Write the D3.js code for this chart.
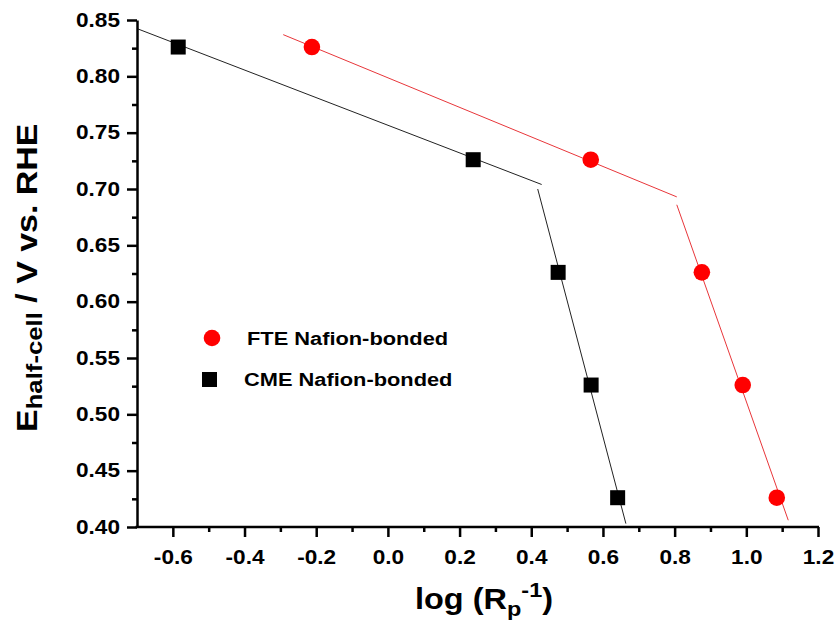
<!DOCTYPE html>
<html>
<head>
<meta charset="utf-8">
<script src="https://cdn.jsdelivr.net/npm/d3@7.9.0/dist/d3.min.js"></script>
<style>
  body { margin: 0; background: #fff; }
  text { font-family: "Liberation Sans", Arial, sans-serif; font-weight: bold; fill: #000; }
</style>
</head>
<body>
<svg id="chart" width="838" height="627"></svg>
<script>
// data
const fteX = [-0.212, 0.566, 0.876, 0.990, 1.085];
const fteY = [0.826, 0.726, 0.626, 0.526, 0.426];
const cmeX = [-0.585, 0.238, 0.475, 0.567, 0.641];
const cmeY = [0.826, 0.726, 0.626, 0.526, 0.426];

// fitted line segments [x0, y0, x1, y1]
const fteFits = [[-0.292, 0.837, 0.806, 0.693], [0.806, 0.686, 1.117, 0.406]];
const cmeFits = [[-0.697, 0.842, 0.429, 0.704], [0.418, 0.700, 0.664, 0.403]];

const xTicks = [-0.6, -0.4, -0.2, 0.0, 0.2, 0.4, 0.6, 0.8, 1.0, 1.2];
const xMinor = [-0.5, -0.3, -0.1, 0.1, 0.3, 0.5, 0.7, 0.9, 1.1];
const yTicks = [0.40, 0.45, 0.50, 0.55, 0.60, 0.65, 0.70, 0.75, 0.80, 0.85];
const yMinor = [0.425, 0.475, 0.525, 0.575, 0.625, 0.675, 0.725, 0.775, 0.825];

const legendNames = ['FTE Nafion-bonded', 'CME Nafion-bonded'];

// the original text is a bit wider than Arial, stretch it sideways
const K = 1.18;

const svg = d3.select('#chart');

const x = d3.scaleLinear().domain([-0.7, 1.2]).range([137, 818]);
const y = d3.scaleLinear().domain([0.40, 0.85]).range([527, 20]);

// fit lines
function drawFits(fits, color) {
  svg.append('g').selectAll('line')
    .data(fits)
    .join('line')
    .attr('x1', d => x(d[0])).attr('y1', d => y(d[1]))
    .attr('x2', d => x(d[2])).attr('y2', d => y(d[3]))
    .attr('stroke', color)
    .attr('stroke-width', 1);
}
drawFits(cmeFits, '#222');
drawFits(fteFits, '#e8363a');

const fmtX = d => d3.format('.1f')(d).replace('\u2212', '-');
const fmtY = d => d3.format('.2f')(d);

// axes
const axisX = svg.append('g').attr('transform', 'translate(0,527)')
  .call(d3.axisBottom(x).tickValues(xTicks).tickSizeInner(10).tickSizeOuter(0).tickPadding(13)
    .tickFormat(fmtX));
svg.append('g').attr('transform', 'translate(0,527)')
  .call(d3.axisBottom(x).tickValues(xMinor).tickSize(5).tickFormat(''))
  .select('.domain').remove();

const axisY = svg.append('g').attr('transform', 'translate(137,0)')
  .call(d3.axisLeft(y).tickValues(yTicks).tickSizeInner(10).tickSizeOuter(0).tickPadding(7)
    .tickFormat(fmtY));
svg.append('g').attr('transform', 'translate(137,0)')
  .call(d3.axisLeft(y).tickValues(yMinor).tickSize(5).tickFormat(''))
  .select('.domain').remove();

svg.selectAll('.domain').attr('stroke', '#000').attr('stroke-width', 2.5);
svg.selectAll('.tick line').attr('stroke', '#000').attr('stroke-width', 2.5);
svg.selectAll('.tick text')
  .attr('font-size', 19.5)
  .attr('font-family', '"Liberation Sans", Arial, sans-serif')
  .attr('font-weight', 'bold')
  .attr('fill', '#000');

axisX.selectAll('.tick text').attr('transform', `scale(${K - 0.02},1)`);
axisY.selectAll('.tick text').each(function () {
  const t = d3.select(this);
  const px = +t.attr('x');
  t.attr('x', 0).attr('transform', `translate(${px},0) scale(${K - 0.02},1)`);
});

// x axis starts at -0.7: extend domain a touch past the y axis
axisX.select('.domain').attr('d', `M${x(-0.7) - 1.5},0H${x(1.2) + 1}`);

// points
svg.append('g').selectAll('rect')
  .data(cmeX.map((v, i) => [v, cmeY[i]]))
  .join('rect')
  .attr('x', d => x(d[0]) - 7.5).attr('y', d => y(d[1]) - 7.5)
  .attr('width', 15).attr('height', 15)
  .attr('fill', '#000');

svg.append('g').selectAll('circle')
  .data(fteX.map((v, i) => [v, fteY[i]]))
  .join('circle')
  .attr('cx', d => x(d[0])).attr('cy', d => y(d[1]))
  .attr('r', 8.3)
  .attr('fill', '#ff0000');

// legend
const leg = svg.append('g');
leg.append('circle').attr('cx', 212).attr('cy', 338).attr('r', 8.3).attr('fill', '#ff0000');
leg.append('text').attr('transform', `translate(247,345) scale(${K},1)`)
  .attr('font-size', 18.5).text(legendNames[0]);
leg.append('rect').attr('x', 202).attr('y', 372).attr('width', 15).attr('height', 15).attr('fill', '#000');
leg.append('text').attr('transform', `translate(244,386) scale(${K},1)`)
  .attr('font-size', 18.5).text(legendNames[1]);

// x title
const xt = svg.append('text').attr('transform', 'translate(415,609) scale(1.12,1)').attr('font-size', 29);
xt.append('tspan').text('log (R');
xt.append('tspan').attr('font-size', 21).attr('dy', 7).text('p');
xt.append('tspan').attr('font-size', 21).attr('dy', -19).text('-1');
xt.append('tspan').attr('dy', 12).text(')');

// y title
const yt = svg.append('text')
  .attr('transform', 'translate(37,432) rotate(-90) scale(1.17,1)')
  .attr('font-size', 29);
yt.append('tspan').text('E');
yt.append('tspan').attr('font-size', 22).attr('dy', 5).text('half-cell');
yt.append('tspan').attr('dy', -5).text(' / V vs. RHE');
</script>
</body>
</html>
